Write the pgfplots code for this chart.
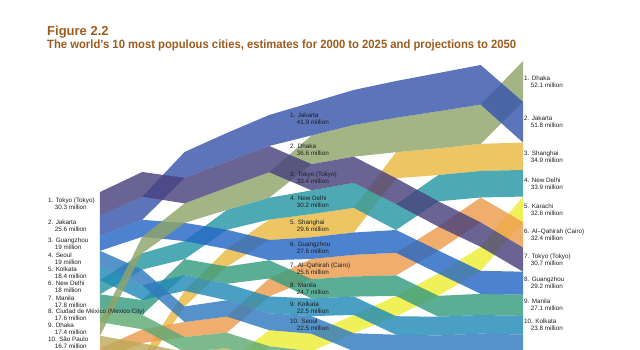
\documentclass[border=0pt]{standalone}
\usepackage{fontspec}
\setmainfont{Liberation Sans}
\usepackage{pgfplots}
\pgfplotsset{compat=1.18}
\usepgfplotslibrary{fillbetween}
\usepackage{pgfplotstable}

\definecolor{titc}{HTML}{9C5C1E}
\definecolor{labtxt}{HTML}{1E1E1E}
\definecolor{cTokyo}{HTML}{49427D}
\definecolor{cJakarta}{HTML}{3755AB}
\definecolor{cDhaka}{HTML}{8FA56A}
\definecolor{cDelhi}{HTML}{2697A5}
\definecolor{cShanghai}{HTML}{E9B941}
\definecolor{cGuangzhou}{HTML}{2567C4}
\definecolor{cCairo}{HTML}{ED9C4E}
\definecolor{cManila}{HTML}{379C7F}
\definecolor{cKolkata}{HTML}{228BB7}
\definecolor{cSeoul}{HTML}{307ABE}
\definecolor{cKarachi}{HTML}{EDED36}
\definecolor{cMexico}{HTML}{5FAA74}
\definecolor{cSaoPaulo}{HTML}{BDAA5D}

% columns: year, top of band in the rank stack (million), population (million)
\pgfplotstableread{
yr top pop
2000 244.6 30.3
2005 219.1 31.5
2010 226.6 32.5
2015 205.9 33.0
2020 186.0 33.4
2025 209.1 33.4
2030 199.6 33.3
2035 227.1 33.0
2040 256.5 32.2
2045 283.3 31.2
2050 315.4 30.7
}\tTokyo
\pgfplotstableread{
yr top pop
2000 274.9 25.6
2005 250.6 29.5
2010 193.6 33.0
2015 169.4 36.5
2020 146.5 39.5
2025 130.6 41.9
2030 114.6 44.5
2035 103.2 46.7
2040 93.0 48.7
2045 82.8 50.4
2050 129.8 51.8
}\tJakarta
\pgfplotstableread{
yr top pop
2000 410.3 17.4
2005 301.6 21.0
2010 259.1 24.8
2015 238.9 28.5
2020 219.4 32.5
2025 172.5 36.6
2030 159.1 40.5
2035 149.9 44.0
2040 141.7 47.3
2045 133.2 50.0
2050 77.7 52.1
}\tDhaka
\pgfplotstableread{
yr top pop
2000 300.5 19.0
2005 280.1 21.5
2010 283.9 23.2
2015 292.7 24.5
2020 305.7 25.8
2025 302.3 27.6
2030 296.2 28.4
2035 293.0 29.0
2040 319.2 29.2
2045 345.0 29.3
2050 346.1 29.2
}\tGuangzhou
\pgfplotstableread{
yr top pop
2000 319.5 19.0
2005 343.4 19.6
2010 390.4 19.8
2015 382.5 20.8
2020 399.2 21.4
2025 402.7 22.5
2030 424.5 22.8
2035 426.4 22.9
2040 427.3 22.9
2045 425.0 22.7
2050 426.2 22.4
}\tSeoul
\pgfplotstableread{
yr top pop
2000 338.5 18.4
2005 363.0 19.2
2010 350.5 20.0
2015 361.5 21.0
2020 377.6 21.6
2025 380.2 22.5
2030 377.8 23.4
2035 402.8 23.6
2040 403.5 23.8
2045 401.2 23.8
2050 402.4 23.8
}\tKolkata
\pgfplotstableread{
yr top pop
2000 356.9 18.0
2005 322.6 20.8
2010 307.1 23.0
2015 267.4 25.3
2020 251.9 27.8
2025 242.5 30.2
2030 232.9 31.8
2035 260.1 32.9
2040 223.0 33.5
2045 217.8 33.8
2050 216.5 33.9
}\tDelhi
\pgfplotstableread{
yr top pop
2000 374.9 17.8
2005 382.2 19.0
2010 330.1 20.4
2015 339.5 22.0
2020 331.5 23.3
2025 355.5 24.7
2030 352.2 25.6
2035 350.8 26.2
2040 376.9 26.6
2045 374.3 26.9
2050 375.3 27.1
}\tManila
\pgfplotstableread{
yr top pop
2000 392.7 17.6
2005 401.2 18.3
2010 429.3 19.0
2015 423.8 19.6
2020 441.1 20.2
2025 447.4 20.8
2030 447.3 21.3
2035 449.3 21.7
2040 450.2 22.0
2045 447.7 22.1
2050 448.6 22.1
}\tMexico
\pgfplotstableread{
yr top pop
2000 427.7 16.7
2005 437.1 17.5
2010 448.3 18.2
2015 443.4 19.0
2020 461.3 19.6
2025 468.2 20.1
2030 468.6 20.5
2035 471.0 20.8
2040 472.2 21.0
2045 469.8 21.1
2050 470.7 21.1
}\tSaoPaulo
\pgfplotstableread{
yr top pop
2000 458.9 14.0
2005 454.6 16.0
2010 370.5 19.9
2015 317.2 22.3
2020 279.7 26.0
2025 272.7 29.6
2030 264.7 31.5
2035 193.9 33.2
2040 189.0 34.0
2045 183.2 34.6
2050 181.6 34.9
}\tShanghai
\pgfplotstableread{
yr top pop
2000 444.4 14.5
2005 419.5 17.6
2010 410.2 19.1
2015 403.3 20.5
2020 354.8 22.8
2025 329.9 25.6
2030 324.6 27.6
2035 322.0 28.8
2040 288.7 30.5
2045 251.6 31.7
2050 283.0 32.4
}\tCairo
\pgfplotstableread{
yr top pop
2000 472.9 12.0
2005 470.6 14.0
2010 466.5 16.5
2015 462.4 18.0
2020 420.6 20.5
2025 425.2 22.2
2030 401.2 23.3
2035 377.0 25.8
2040 348.4 28.5
2045 314.5 30.5
2050 250.4 32.6
}\tKarachi

\newcommand{\band}[3]{%
  \addplot[draw=none, name path=#3a] table[x=yr, y=top]{#1};
  \addplot[draw=none, name path=#3b] table[x=yr, y expr=\thisrow{top}+\thisrow{pop}]{#1};
  \addplot[fill=#2, fill opacity=0.82, draw=none] fill between[of=#3a and #3b];
}
\newcommand{\labfont}{\fontsize{6.3bp}{7bp}\selectfont}
\newcommand{\lab}[4]{%
  \node[anchor=west, align=left, inner sep=0pt, font=\labfont, text=labtxt]
    at (axis cs:#1,#2) {#3\\\hspace*{6.7bp}#4};
}

\begin{document}
\begin{tikzpicture}
\path (0,0) rectangle (640bp,350bp);
\begin{axis}[
  at={(320bp,175bp)}, anchor=center,
  width=640bp, height=350bp, scale only axis, hide axis,
  xmin=1988.18, xmax=2063.83, ymin=0, ymax=445.86, y dir=reverse,
  clip=true]
\band{\tKarachi}{cKarachi}{kar}
\band{\tShanghai}{cShanghai}{sha}
\band{\tCairo}{cCairo}{cai}
\band{\tSaoPaulo}{cSaoPaulo}{sao}
\band{\tMexico}{cMexico}{mex}
\band{\tManila}{cManila}{man}
\band{\tDelhi}{cDelhi}{del}
\band{\tKolkata}{cKolkata}{kol}
\band{\tSeoul}{cSeoul}{seo}
\band{\tGuangzhou}{cGuangzhou}{gua}
\band{\tDhaka}{cDhaka}{dha}
\band{\tJakarta}{cJakarta}{jak}
\band{\tTokyo}{cTokyo}{tok}

% 2000 labels
\lab{1993.85}{259.75}{1. Tokyo (Tokyo)}{30.3 million}
\lab{1993.85}{287.7}{2. Jakarta}{25.6 million}
\lab{1993.85}{310.0}{3. Guangzhou}{19 million}
\lab{1993.85}{329.0}{4. Seoul}{19 million}
\lab{1993.85}{347.7}{5. Kolkata}{18.4 million}
\lab{1993.85}{365.9}{6. New Delhi}{18 million}
\lab{1993.85}{383.8}{7. Manila}{17.8 million}
\lab{1993.85}{401.5}{8. Ciudad de México (Mexico City)}{17.6 million}
\lab{1993.85}{419.0}{9. Dhaka}{17.4 million}
\lab{1993.85}{436.05}{10. São Paulo}{16.7 million}
% 2025 labels
\lab{2022.46}{151.55}{1. Jakarta}{41.9 million}
\lab{2022.46}{190.8}{2. Dhaka}{36.6 million}
\lab{2022.46}{225.8}{3. Tokyo (Tokyo)}{33.4 million}
\lab{2022.46}{257.6}{4. New Delhi}{30.2 million}
\lab{2022.46}{287.5}{5. Shanghai}{29.6 million}
\lab{2022.46}{316.1}{6. Guangzhou}{27.6 million}
\lab{2022.46}{342.7}{7. Al–Qahirah (Cairo)}{25.6 million}
\lab{2022.46}{367.85}{8. Manila}{24.7 million}
\lab{2022.46}{391.45}{9. Kolkata}{22.5 million}
\lab{2022.46}{413.95}{10. Seoul}{22.5 million}
% 2050 labels
\lab{2050.12}{103.75}{1. Dhaka}{52.1 million}
\lab{2050.12}{155.7}{2. Jakarta}{51.8 million}
\lab{2050.12}{199.05}{3. Shanghai}{34.9 million}
\lab{2050.12}{233.45}{4. New Delhi}{33.9 million}
\lab{2050.12}{266.7}{5. Karachi}{32.6 million}
\lab{2050.12}{299.2}{6. Al–Qahirah (Cairo)}{32.4 million}
\lab{2050.12}{330.75}{7. Tokyo (Tokyo)}{30.7 million}
\lab{2050.12}{360.7}{8. Guangzhou}{29.2 million}
\lab{2050.12}{388.85}{9. Manila}{27.1 million}
\lab{2050.12}{414.3}{10. Kolkata}{23.8 million}
\end{axis}
\node[anchor=base west, inner sep=0pt, text=titc, font=\fontsize{13bp}{15bp}\selectfont\bfseries]
  at (47bp,314.5bp) {Figure 2.2};
\node[anchor=base west, inner sep=0pt, text=titc, font=\fontsize{12bp}{14bp}\selectfont\bfseries]
  at (47bp,301.5bp) {\resizebox{469bp}{\height}{The world’s 10 most populous cities, estimates for 2000 to 2025 and projections to 2050}};
\end{tikzpicture}
\end{document}
